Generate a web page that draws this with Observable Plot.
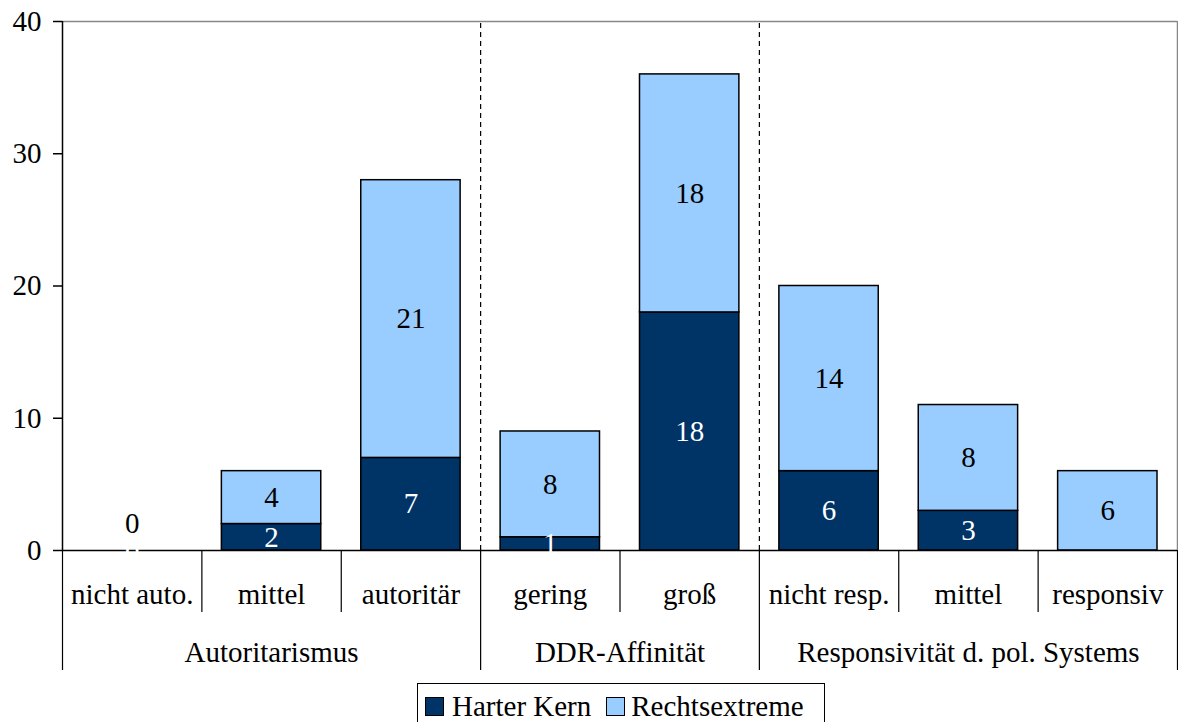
<!DOCTYPE html>
<html>
<head>
<meta charset="utf-8">
<script src="https://cdn.jsdelivr.net/npm/d3@7"></script>
<script src="https://cdn.jsdelivr.net/npm/@observablehq/plot@0.6"></script>
<style>
  html, body { margin: 0; padding: 0; background: #fff; }
  body { font-family: "Liberation Serif", "Tinos", "Times New Roman", "DejaVu Serif", serif; color: #000; width: 1178px; height: 722px; overflow: hidden; }
  #legend { margin-left: 417px; margin-top: 7px; width: 399px; height: 44px; border: 1px solid #000; border-bottom: none;
            display: flex; align-items: center; padding-left: 7px; box-sizing: content-box; font-size: 29px; line-height: 29px; }
  .sw { width: 19px; height: 19px; box-sizing: border-box; border: 1.5px solid #000; display: inline-block; }
  .item { display: flex; align-items: center; }
  .lbl { margin-left: 8px; margin-right: 15px; white-space: nowrap; }
  svg text { font-family: "Liberation Serif", "Tinos", "Times New Roman", "DejaVu Serif", serif; }
</style>
</head>
<body>
<div id="chart"></div>
<div id="legend"></div>
<script>
// ---- data ----
const categories = ["nicht auto.", "mittel", "autoritär", "gering", "groß", "nicht resp.", "mittel", "responsiv"];
const groups = ["Autoritarismus", "DDR-Affinität", "Responsivität d. pol. Systems"];
const groupSizes = [3, 2, 3];
const harterKern = [0, 2, 7, 1, 18, 6, 3, 0];
const rechtsextreme = [0, 4, 21, 8, 18, 14, 8, 6];
const series = ["Harter Kern", "Rechtsextreme"];
const seriesColors = ["#003366", "#99CCFF"];
const yTicks = [0, 10, 20, 30, 40];

// ---- derived tables ----
const n = categories.length;
const segments = [];
categories.forEach((c, i) => {
  const hk = harterKern[i], re = rechtsextreme[i];
  segments.push({i, s: series[0], y1: 0, y2: hk, v: hk, other: re});
  segments.push({i, s: series[1], y1: hk, y2: hk + re, v: re, other: hk});
});
const groupStarts = [];
let acc = 0;
groupSizes.forEach(g => { groupStarts.push(acc); acc += g; });
const groupCenters = groups.map((g, k) => groupStarts[k] + groupSizes[k] / 2);
const groupBounds = [...groupStarts, n];
const innerGroupBounds = groupStarts.slice(1);
const minorBounds = d3.range(1, n).filter(b => !groupStarts.includes(b));
const yMax = d3.max(yTicks);
const FONT = "'Liberation Serif', 'Tinos', 'Times New Roman', 'DejaVu Serif', serif";

const chart = Plot.plot({
  width: 1178,
  height: 676,
  marginLeft: 62,
  marginRight: 1,
  marginTop: 21,
  marginBottom: 126,
  style: {fontFamily: FONT, fontSize: "29px", color: "#000", background: "#fff", overflow: "visible"},
  x: {domain: [0, n], label: null},
  y: {domain: [0, yMax], label: null},
  color: {domain: series, range: seriesColors},
  marks: [
    Plot.ruleY([yMax], {x1: 0, x2: n, stroke: "#888", strokeWidth: 1.5}),
    Plot.ruleX([n], {y1: 0, y2: yMax, stroke: "#888", strokeWidth: 1.5}),
    Plot.ruleX(innerGroupBounds, {y1: 0, y2: yMax, stroke: "#000", strokeWidth: 1.2, strokeDasharray: "5,4"}),
    Plot.rectY(segments.filter(d => d.v > 0), {
      x1: d => d.i, x2: d => d.i + 1, y1: "y1", y2: "y2", fill: "s",
      stroke: "#000", strokeWidth: 1.5, insetLeft: 20, insetRight: 20
    }),
    Plot.ruleX([0], {y1: 0, y2: yMax, stroke: "#000", strokeWidth: 1.5}),
    Plot.ruleY([0], {x1: 0, x2: n, stroke: "#000", strokeWidth: 1.5}),
    Plot.axisY({ticks: yTicks, tickSize: 9, tickPadding: 12, strokeWidth: 1.5, label: null}),
    Plot.axisX({ticks: minorBounds, tickSize: 62, tickFormat: () => "", label: null, strokeWidth: 1.2}),
    Plot.axisX({ticks: groupBounds, tickSize: 120, tickFormat: () => "", label: null, strokeWidth: 1.2}),
    Plot.axisX({ticks: categories.map((c, i) => i + 0.5), tickSize: 0, tickPadding: 33,
                tickFormat: d => categories[Math.floor(d)], label: null}),
    Plot.axisX({ticks: groupCenters, tickSize: 0, tickPadding: 91,
                tickFormat: d => groups[groupCenters.indexOf(d)], label: null}),
    Plot.text(segments.filter(d => d.s === series[0] && (d.v > 0 || d.other === 0)), {
      x: d => d.i + 0.5, y: d => (d.y1 + d.y2) / 2, text: d => String(d.v), fill: "#fff", fontSize: 29
    }),
    Plot.text(segments.filter(d => d.s === series[1] && d.v > 0), {
      x: d => d.i + 0.5, y: d => (d.y1 + d.y2) / 2, text: d => String(d.v), fill: "#000", fontSize: 29
    }),
    Plot.text(segments.filter(d => d.s === series[1] && d.v === 0 && d.other === 0), {
      x: d => d.i + 0.5, y: d => d.y2, text: d => String(d.v), fill: "#000", fontSize: 29, dy: -27
    })
  ]
});
document.getElementById("chart").appendChild(chart);

const legend = document.getElementById("legend");
series.forEach((s, k) => {
  const item = document.createElement("div");
  item.className = "item";
  const sw = document.createElement("span");
  sw.className = "sw";
  sw.style.background = seriesColors[k];
  const lb = document.createElement("span");
  lb.className = "lbl";
  lb.textContent = s;
  if (k === 1) lb.style.marginLeft = "6px";
  item.appendChild(sw);
  item.appendChild(lb);
  legend.appendChild(item);
});
</script>
</body>
</html>
